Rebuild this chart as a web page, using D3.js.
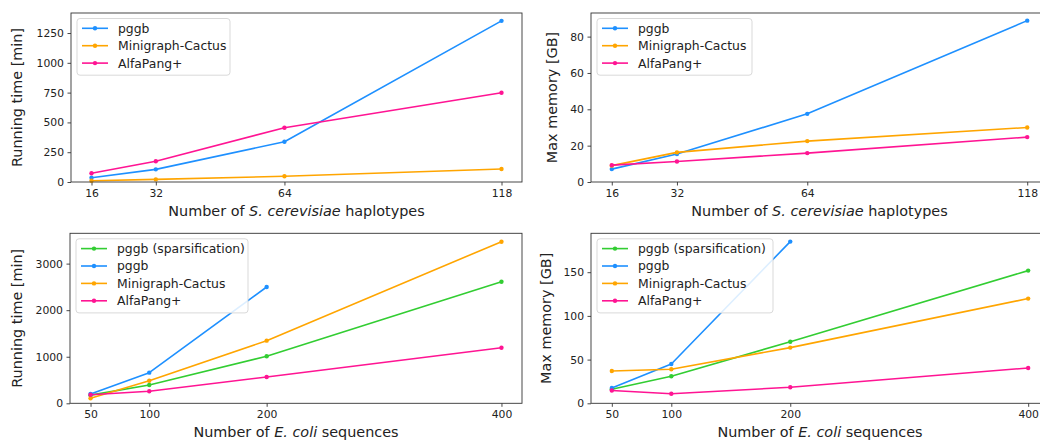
<!DOCTYPE html>
<html><head><meta charset="utf-8">
<script src="https://cdn.jsdelivr.net/npm/d3@7"></script>
<style>
body{margin:0;background:#fff;}
svg{display:block;font-family:"DejaVu Sans",sans-serif;}
</style></head>
<body><svg id="c" width="1040" height="441"></svg>
<script>
// ---- data ----
const yeastX = [16, 32, 64, 118];
const yeastTimePggb = [36, 106, 338, 1352];
const yeastTimeMC = [10, 22, 48, 109];
const yeastTimeAlfa = [73, 174, 455, 749];
const yeastMemPggb = [7.1, 15.4, 37.5, 88.8];
const yeastMemMC = [9.0, 16.3, 22.5, 30.0];
const yeastMemAlfa = [9.3, 11.3, 15.9, 24.7];

const ecoliX = [50, 100, 200, 400];
const ecoliTimeSparse = [175, 394, 1009, 2612];
const ecoliTimePggb = [200, 658, 2498];
const ecoliTimeMC = [107, 485, 1345, 3471];
const ecoliTimeAlfa = [185, 258, 565, 1194];
const ecoliMemSparse = [16, 31, 70.5, 151.8];
const ecoliMemPggb = [17.5, 45, 185];
const ecoliMemMC = [37, 39, 63.7, 119.8];
const ecoliMemAlfa = [14.6, 11, 18.3, 40.4];

const yeastTicks = [16, 32, 64, 118];
const ecoliTicks = [50, 100, 200, 400];
const timeYeastTicks = [0, 250, 500, 750, 1000, 1250];
const memYeastTicks = [0, 20, 40, 60, 80];
const timeEcoliTicks = [0, 1000, 2000, 3000];
const memEcoliTicks = [0, 50, 100, 150];

const C = {sparse:"#32CD32", pggb:"#1E90FF", mc:"#FFA500", alfa:"#FF1493"};

const svg = d3.select("#c");

function panel(o){
  const g = svg.append("g");
  const x = d3.scaleLinear().domain(o.xdom).range([o.x0, o.x1]);
  const y = d3.scaleLinear().domain(o.ydom).range([o.y1, o.y0]);
  // axes
  const xa = g.append("g").attr("transform",`translate(0,${o.y1})`)
    .call(d3.axisBottom(x).tickValues(o.xticks).tickSize(3.5).tickPadding(3.5).tickFormat(d3.format("d")));
  const ya = g.append("g").attr("transform",`translate(${o.x0},0)`)
    .call(d3.axisLeft(y).tickValues(o.yticks).tickSize(3.5).tickPadding(3.5).tickFormat(d3.format("d")));
  [xa,ya].forEach(a=>{
    a.select(".domain").remove();
    a.selectAll("text").attr("font-size","10.8px").attr("fill","#222").attr("font-family","DejaVu Sans");
    a.selectAll("line").attr("stroke","#333").attr("stroke-width",0.9);
  });
  // series
  const clipId = "clip"+Math.round(o.x0)+Math.round(o.y0);
  g.append("clipPath").attr("id",clipId).append("rect")
    .attr("x",o.x0).attr("y",o.y0-4).attr("width",o.x1-o.x0+4).attr("height",o.y1-o.y0+4);
  const line = d3.line().x(d=>x(d[0])).y(d=>y(d[1]));
  o.series.forEach(s=>{
    const pts = s.v.map((v,i)=>[o.xs[i], v]);
    g.append("path").datum(pts).attr("d",line).attr("fill","none")
      .attr("stroke",s.c).attr("stroke-width",1.6).attr("stroke-linejoin","round");
    g.selectAll(null).data(pts).enter().append("circle")
      .attr("cx",d=>x(d[0])).attr("cy",d=>y(d[1])).attr("r",2.2).attr("fill",s.c);
  });
  // frame
  g.append("rect").attr("x",o.x0).attr("y",o.y0).attr("width",o.x1-o.x0).attr("height",o.y1-o.y0)
    .attr("fill","none").attr("stroke","#333").attr("stroke-width",0.9);
  // legend
  const lg = g.append("g");
  const rowH = 17.4;
  lg.append("rect").attr("x",o.x0+6).attr("y",o.y0+5.5).attr("width",o.legW)
    .attr("height",o.series.length*rowH+4.5).attr("rx",3).attr("fill","rgba(255,255,255,0.85)")
    .attr("stroke","#d5d5d5").attr("stroke-width",0.9);
  o.series.forEach((s,i)=>{
    const cy = o.y0+15.3+i*rowH;
    lg.append("line").attr("x1",o.x0+11).attr("x2",o.x0+37).attr("y1",cy).attr("y2",cy)
      .attr("stroke",s.c).attr("stroke-width",1.6);
    lg.append("circle").attr("cx",o.x0+24).attr("cy",cy).attr("r",2.2).attr("fill",s.c);
    lg.append("text").attr("x",o.x0+47).attr("y",cy+4.4).attr("font-size","12.4px").attr("fill","#222").text(s.name);
  });
  // y label
  g.append("text").attr("transform",`translate(${o.ylx},${(o.y0+o.y1)/2}) rotate(-90)`)
    .attr("text-anchor","middle").attr("font-size","14.4px").attr("fill","#222").text(o.ylabel);
  // x label
  const t = g.append("text").attr("x",(o.x0+o.x1)/2).attr("y",o.y1+34).attr("text-anchor","middle")
    .attr("font-size","14.4px").attr("fill","#222");
  t.append("tspan").text("Number of ");
  t.append("tspan").attr("font-style","italic").text(o.italic);
  t.append("tspan").text(" "+o.rest);
}

panel({x0:71,x1:522,y0:13,y1:182,xdom:[10.9,123.1],ydom:[0,1418],xs:yeastX,xticks:yeastTicks,yticks:timeYeastTicks,
  legW:153,ylx:22,ylabel:"Running time [min]",italic:"S. cerevisiae",rest:"haplotypes",
  series:[{name:"pggb",c:C.pggb,v:yeastTimePggb},{name:"Minigraph-Cactus",c:C.mc,v:yeastTimeMC},{name:"AlfaPang+",c:C.alfa,v:yeastTimeAlfa}]});
panel({x0:591,x1:1048,y0:13,y1:182,xdom:[10.9,123.1],ydom:[0,93],xs:yeastX,xticks:yeastTicks,yticks:memYeastTicks,
  legW:155,ylx:557,ylabel:"Max memory [GB]",italic:"S. cerevisiae",rest:"haplotypes",
  series:[{name:"pggb",c:C.pggb,v:yeastMemPggb},{name:"Minigraph-Cactus",c:C.mc,v:yeastMemMC},{name:"AlfaPang+",c:C.alfa,v:yeastMemAlfa}]});
panel({x0:70,x1:522,y0:233.3,y1:403.3,xdom:[32.5,417.5],ydom:[0,3651],xs:ecoliX,xticks:ecoliTicks,yticks:timeEcoliTicks,
  legW:172,ylx:22,ylabel:"Running time [min]",italic:"E. coli",rest:"sequences",
  series:[{name:"pggb (sparsification)",c:C.sparse,v:ecoliTimeSparse},{name:"pggb",c:C.pggb,v:ecoliTimePggb},{name:"Minigraph-Cactus",c:C.mc,v:ecoliTimeMC},{name:"AlfaPang+",c:C.alfa,v:ecoliTimeAlfa}]});
panel({x0:591,x1:1049,y0:233.3,y1:403.3,xdom:[32.5,417.5],ydom:[0,194.5],xs:ecoliX,xticks:ecoliTicks,yticks:memEcoliTicks,
  legW:176,ylx:551,ylabel:"Max memory [GB]",italic:"E. coli",rest:"sequences",
  series:[{name:"pggb (sparsification)",c:C.sparse,v:ecoliMemSparse},{name:"pggb",c:C.pggb,v:ecoliMemPggb},{name:"Minigraph-Cactus",c:C.mc,v:ecoliMemMC},{name:"AlfaPang+",c:C.alfa,v:ecoliMemAlfa}]});
</script></body></html>
